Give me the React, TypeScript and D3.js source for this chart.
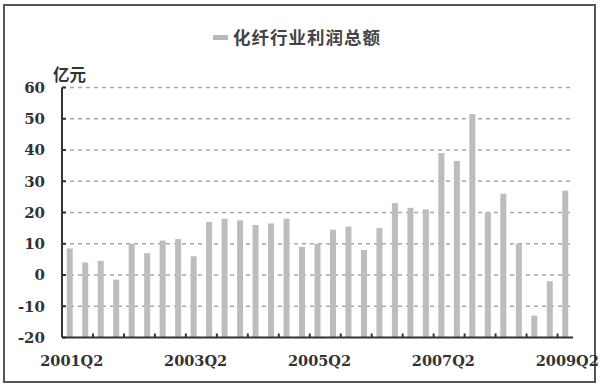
import React from "react";
import * as d3 from "d3";

const quarters: string[] = [
  "2001Q2","2001Q3","2001Q4","2002Q1","2002Q2","2002Q3","2002Q4","2003Q1","2003Q2","2003Q3","2003Q4",
  "2004Q1","2004Q2","2004Q3","2004Q4","2005Q1","2005Q2","2005Q3","2005Q4","2006Q1","2006Q2","2006Q3",
  "2006Q4","2007Q1","2007Q2","2007Q3","2007Q4","2008Q1","2008Q2","2008Q3","2008Q4","2009Q1","2009Q2",
];
const profit: number[] = [
  8.5, 4, 4.5, -1.5, 10, 7, 11, 11.5, 6, 17, 18,
  17.5, 16, 16.5, 18, 9, 10, 14.5, 15.5, 8, 15, 23,
  21.5, 21, 39, 36.5, 51.5, 20, 26, 10, -13, -2, 27,
];
const yTicks: number[] = [-20, -10, 0, 10, 20, 30, 40, 50, 60];
const xLabels: string[] = ["2001Q2", "2003Q2", "2005Q2", "2007Q2", "2009Q2"];
const seriesName = "化纤行业利润总额";
const unit = "亿元";

export default function App() {
  const W = 600, H = 387;
  const left = 62, right = 573, top = 87.5, bottom = 337.5;
  const xb = d3.scaleBand<string>().domain(quarters).range([left, right]);
  const y = d3.scaleLinear().domain([-20, 60]).range([bottom, top]);
  const bw = 6;
  const num = "'DejaVu Serif', 'Liberation Serif', serif";
  const cjk = "'Noto Sans CJK SC', sans-serif";
  const tickIdx = d3.range(2, quarters.length + 1, 2);
  return (
    <svg width={W} height={H} style={{ position: "absolute", left: 0, top: 0, background: "#fff" }}>
      <rect x={4} y={5} width={591} height={377} fill="#fff" stroke="#555" strokeWidth={2} />
      {/* legend */}
      <rect x={213} y={35} width={15} height={5} fill="#b8b8b8" />
      <text x={233} y={44} fontFamily={cjk} fontWeight={700} fontSize={17.5} fill="#444" letterSpacing={1}>{seriesName}</text>
      <text x={53} y={81} fontFamily={cjk} fontWeight={700} fontSize={16.5} fill="#333">{unit}</text>
      {/* grid */}
      {yTicks.filter(t => t > -20).map(t => (
        <line key={"g" + t} x1={left} x2={right} y1={y(t)} y2={y(t)} stroke="#a8a8a8" strokeWidth={1.5} strokeDasharray="4,4" />
      ))}
      {/* bars from axis bottom */}
      {quarters.map((q, i) => {
        const cx = xb(q)! + xb.bandwidth() / 2;
        return <rect key={q} x={cx - bw / 2} y={y(profit[i])} width={bw} height={y(-20) - y(profit[i])} fill="#bdbdbd" />;
      })}
      {/* axes */}
      <line x1={left} x2={left} y1={top} y2={bottom} stroke="#333" strokeWidth={2} />
      <line x1={left} x2={right} y1={bottom} y2={bottom} stroke="#333" strokeWidth={2} />
      {yTicks.map(t => (
        <g key={"yt" + t}>
          <line x1={left} x2={left + 4} y1={y(t)} y2={y(t)} stroke="#333" strokeWidth={2} />
          <text x={45} y={y(t)} dy="0.36em" textAnchor="end" fontFamily={num} fontWeight={700} fontSize={15} fill="#333">{t}</text>
        </g>
      ))}
      {tickIdx.map(k => {
        const xx = left + k * xb.step();
        return <line key={"xt" + k} x1={xx} x2={xx} y1={bottom} y2={bottom - 4} stroke="#333" strokeWidth={2} />;
      })}
      {xLabels.map(l => (
        <text key={l} x={xb(l)! + xb.bandwidth() / 2 + 2} y={366} textAnchor="middle" fontFamily={num} fontWeight={700} fontSize={14.5} fill="#333">{l}</text>
      ))}
    </svg>
  );
}
